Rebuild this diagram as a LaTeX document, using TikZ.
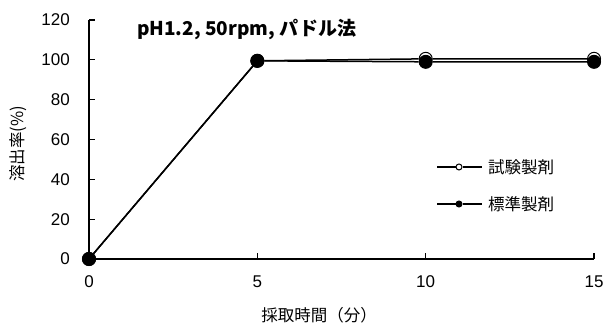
\documentclass[tikz,border=0pt]{standalone}
\usepackage{fontspec}
\setmainfont{Liberation Sans}
\newfontfamily\jp{Noto Sans CJK JP}
\usetikzlibrary{positioning}
\begin{document}
\begin{tikzpicture}[x=1pt, y=1pt, every node/.style={inner sep=0pt, font=\fontsize{17}{19}\selectfont},
		dot/.style={circle, draw, line width=1pt, minimum size=13pt},
		full/.style={dot, fill=black},
		hollow/.style={dot, fill=white},
		series/.style={line width=1.5pt},
		jptext/.style={font=\fontsize{16.5}{18}\selectfont\jp}]
			\useasboundingbox (0,0) rectangle (606,329);
			\begin{scope}[shift={(89,70)}, x=33.67pt, y=1.9917pt]
				\draw[line width=1.2pt] (0,120) -- (0,0) -- (15,0);
				\foreach \v in {0,20,...,120} {
					\draw[line width=1.2pt] (0,\v) -- ++(6pt,0);
					\node[anchor=east] (y\v) at ([xshift=-19pt]0,\v) {\v};
				}
				\foreach \t in {0,5,10,15} {
					\draw[line width=1.2pt] (\t,0) -- ++(0,6pt);
					\node (x\t) at ([yshift=-23pt]\t,0) {\t};
				}
				% test
				\node[hollow] (t0) at (0,0) {};
				\node[hollow] (t5) at (5,99.5) {};
				\node[hollow] (t10) at (10,100.5) {};
				\node[hollow] (t15) at (15,100.5) {};
				\draw[series] (t0) -- (t5) -- (t10) -- (t15);
				% reference
				\node[full] (r0) at (0,0) {};
				\node[full] (r5) at (5,99.5) {};
				\node[full] (r10) at (10,99) {};
				\node[full] (r15) at (15,99) {};
				\draw[series] (r0) -- (r5) -- (r10) -- (r15);
			\end{scope}
			\node[anchor=west, font=\fontsize{19}{21}\selectfont\jp\bfseries] (title) at (137,299) {pH1.2, 50rpm, パドル法};
			\node[rotate=90, jptext] (ylab) at (18,185) {溶出率(\%)};
			\node[jptext] (xlab) at (319,14) {採取時間（分）};
			% legend
			\node[hollow, minimum size=6pt] (lt) at (459,162) {};
			\coordinate (lta) at (437,162);
			\coordinate (ltb) at (482,162);
			\draw[series, line width=1.2pt] (lta) -- (lt) -- (ltb);
			\node[right=6pt of ltb, jptext] (ltt) {試験製剤};
			\node[full, minimum size=6pt] (lr) at (459,125) {};
			\coordinate (lra) at (437,125);
			\coordinate (lrb) at (482,125);
			\draw[series, line width=1.2pt] (lra) -- (lr) -- (lrb);
			\node[right=6pt of lrb, jptext] (lrt) {標準製剤};
		\end{tikzpicture}
\end{document}
